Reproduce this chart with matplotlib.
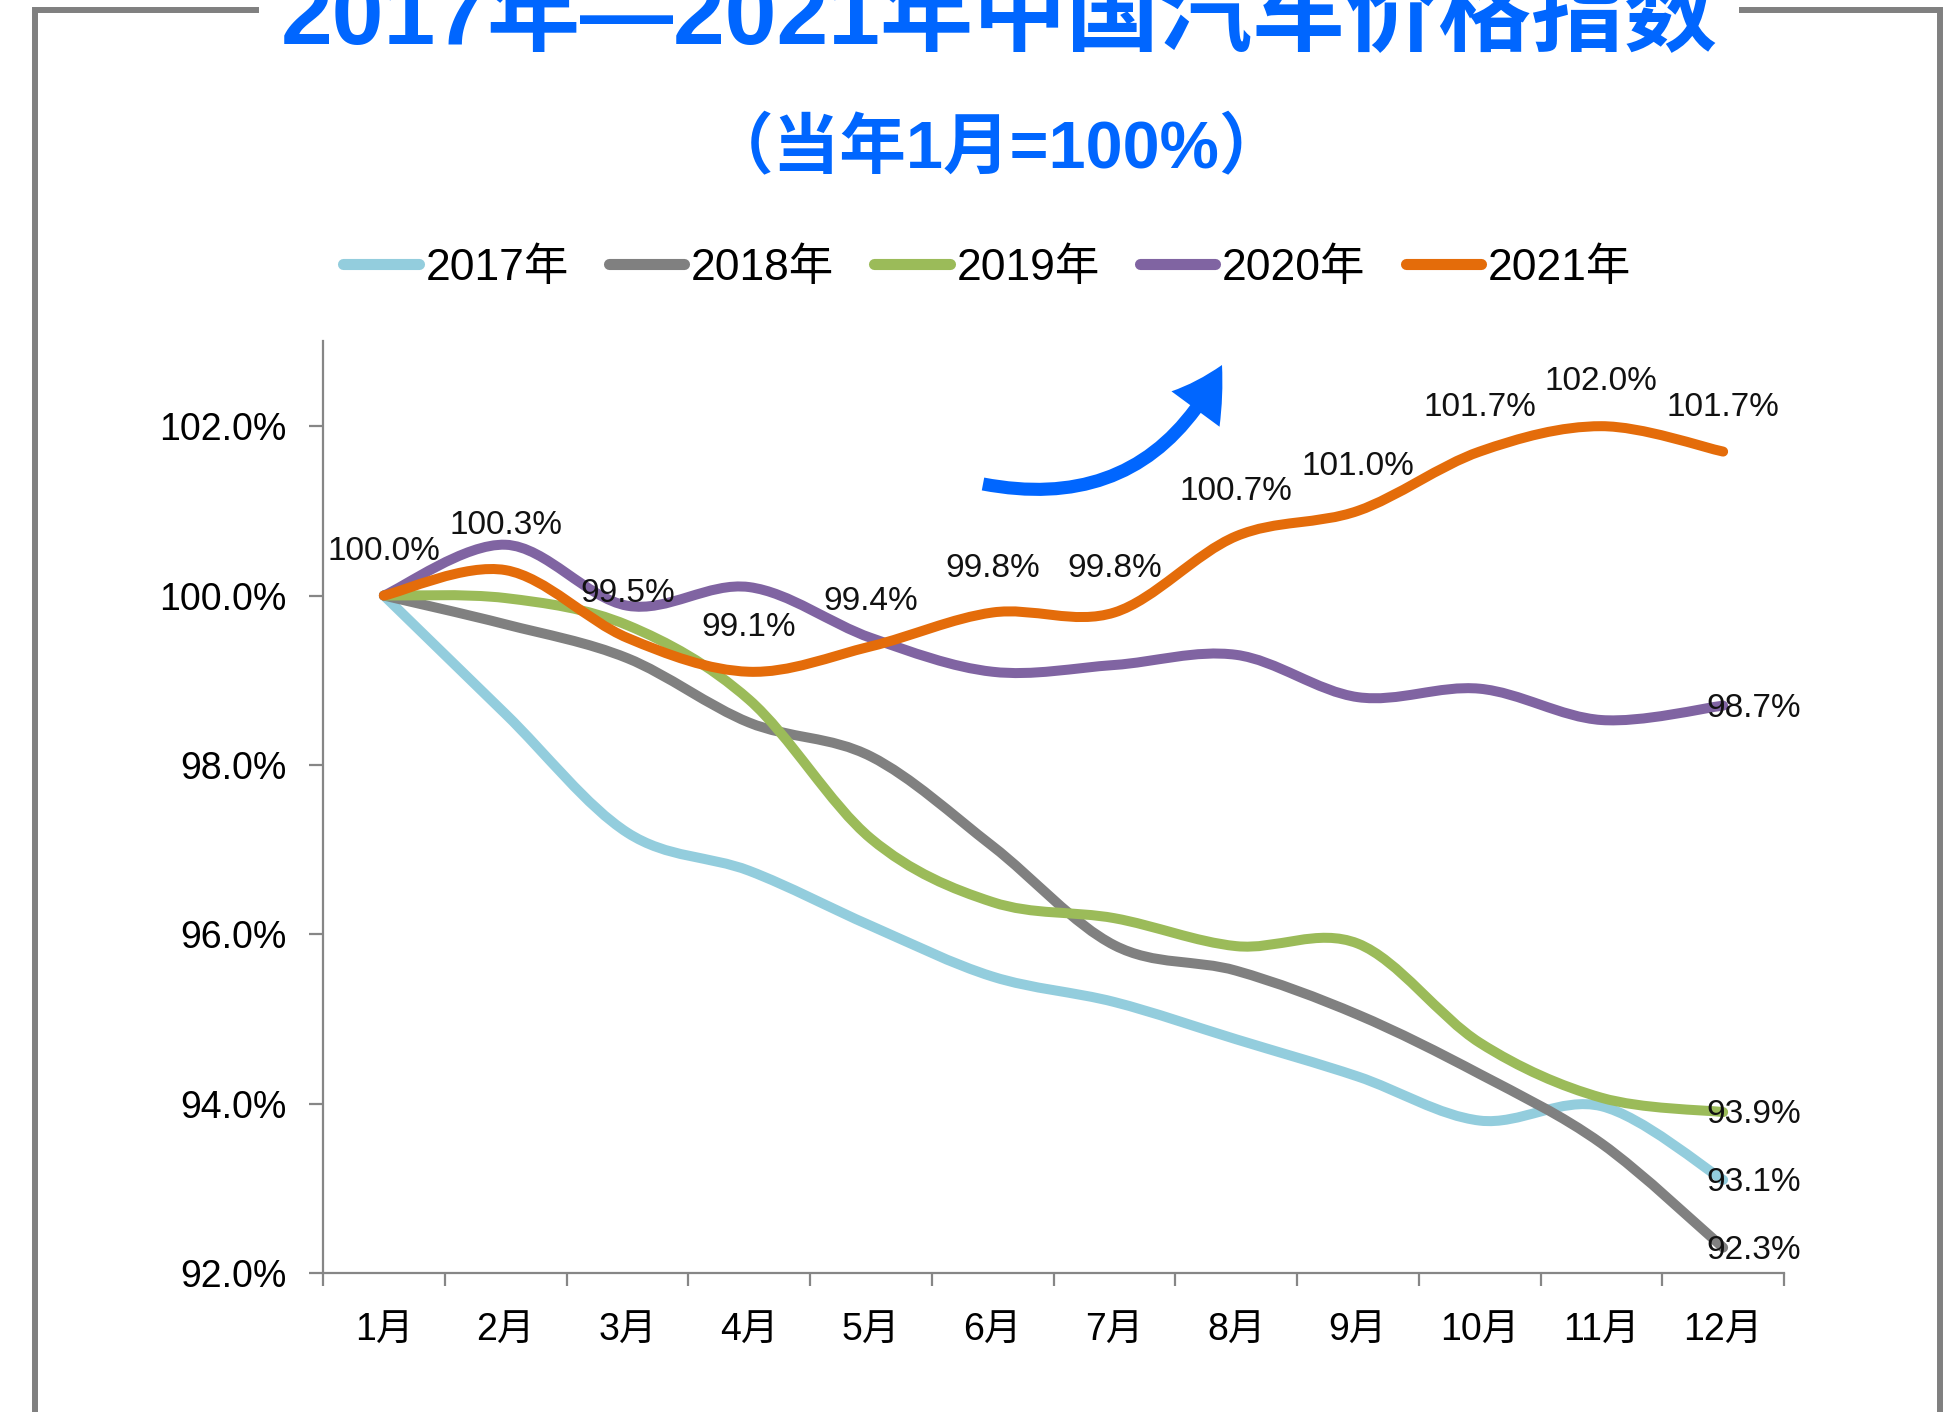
import matplotlib
matplotlib.use("Agg")
import matplotlib.pyplot as plt
import numpy as np
from matplotlib.path import Path
from matplotlib.patches import PathPatch, FancyArrowPatch
from matplotlib.lines import Line2D

plt.rcParams['font.family'] = ['Liberation Sans', 'Noto Sans CJK SC']

months = ['1月', '2月', '3月', '4月', '5月', '6月', '7月', '8月', '9月', '10月', '11月', '12月']
series_names = ['2017年', '2018年', '2019年', '2020年', '2021年']
colors = ['#93CDDD', '#808080', '#9BBB59', '#8064A2', '#E46C0A']

v2017 = [100.0, 98.6, 97.2, 96.75, 96.1, 95.5, 95.2, 94.76, 94.32, 93.8, 93.97, 93.1]
v2018 = [100.0, 99.66, 99.26, 98.5, 98.1, 97.04, 95.87, 95.57, 95.05, 94.35, 93.53, 92.3]
v2019 = [100.0, 99.97, 99.65, 98.77, 97.13, 96.38, 96.19, 95.86, 95.89, 94.72, 94.07, 93.9]
v2020 = [100.0, 100.6, 99.88, 100.1, 99.5, 99.1, 99.18, 99.3, 98.8, 98.9, 98.53, 98.7]
v2021 = [100.0, 100.3, 99.5, 99.1, 99.4, 99.8, 99.8, 100.7, 101.0, 101.7, 102.0, 101.7]
all_series = [v2017, v2018, v2019, v2020, v2021]

yticks = [92, 94, 96, 98, 100, 102]


def smooth_path(ys):
    # Excel-style smoothed line: cubic bezier through every point
    n = len(ys)
    pts = np.column_stack([np.arange(n), ys]).astype(float)
    verts = [pts[0]]
    codes = [Path.MOVETO]
    for i in range(n - 1):
        p0 = pts[max(i - 1, 0)]
        p1 = pts[i]
        p2 = pts[i + 1]
        p3 = pts[min(i + 2, n - 1)]
        verts += [p1 + (p2 - p0) / 6, p2 - (p3 - p1) / 6, p2]
        codes += [Path.CURVE4] * 3
    return Path(verts, codes)


W, H = 1947, 1412
fig = plt.figure(figsize=(W / 100, H / 100), dpi=100)
ax = fig.add_axes([323 / W, 1 - 1273 / H, (1784 - 323) / W, (1273 - 341.5) / H])

lw = 7.2
for ys, c in zip(all_series, colors):
    patch = PathPatch(smooth_path(ys), facecolor='none', edgecolor=c, lw=lw,
                      capstyle='round', joinstyle='round')
    ax.add_patch(patch)

ax.set_xlim(-0.5, 11.5)
ax.set_ylim(92, 103)

for s in ['top', 'right']:
    ax.spines[s].set_visible(False)
for s in ['left', 'bottom']:
    ax.spines[s].set_color('#868686')
    ax.spines[s].set_linewidth(1.6)

ax.set_yticks(yticks)
ax.set_yticklabels([f'{v:.1f}%' for v in yticks])
ax.tick_params(axis='y', direction='out', length=10, width=1.6, color='#868686',
               labelsize=27, pad=16)

ax.set_xticks(np.arange(-0.5, 12, 1))
ax.set_xticklabels([])
ax.set_xticks(np.arange(12), minor=True)
ax.set_xticklabels(months, minor=True)
ax.tick_params(axis='x', which='major', direction='out', length=9, width=1.6, color='#868686')
ax.tick_params(axis='x', which='minor', length=0, labelsize=27, pad=29)

# 2021 data labels above the line
for i, v in enumerate(v2021):
    ax.annotate(f'{v:.1f}%', (i, v), xytext=(0, 32), textcoords='offset points',
                ha='center', va='center', fontsize=24, color='#111111')

# end labels for the other years
for ys in [v2017, v2018, v2019, v2020]:
    ax.annotate(f'{ys[-1]:.1f}%', (11, ys[-1]), xytext=(-12, -2), textcoords='offset points',
                ha='left', va='center', fontsize=24, color='#111111')

handles = [Line2D([], [], color=c, lw=8, solid_capstyle='round') for c in colors]
fig.legend(handles, series_names, loc='center', bbox_to_anchor=(0.507, 1 - 268 / H),
           ncol=5, frameon=False, fontsize=32, handlelength=1.7, handletextpad=0.15,
           columnspacing=0.9)

fig.text(0.513, 1 - 43 / H, '2017年—2021年中国汽车价格指数', ha='center', va='baseline',
         fontsize=67, fontweight='bold', color='#0066FF')
fig.text(0.512, 1 - 168 / H, '（当年1月=100%）', ha='center', va='baseline',
         fontsize=48, fontweight='bold', color='#0066FF')

# curved blue arrow
arrow = FancyArrowPatch((983 / W, 1 - 484 / H), (1222 / W, 1 - 365 / H),
                        transform=fig.transFigure, connectionstyle='arc3,rad=0.38',
                        arrowstyle='simple,head_length=3.7,head_width=4.3,tail_width=0.94',
                        mutation_scale=10, color='#0066FF', lw=0, shrinkA=0, shrinkB=0)
fig.patches.append(arrow)

# outer frame, broken at the top for the title
frame_kw = dict(color='#808080', lw=4.3, transform=fig.transFigure, solid_joinstyle='miter')
fig.lines.append(Line2D([35 / W, 35 / W, 256 / W], [0, 1 - 10 / H, 1 - 10 / H], **frame_kw))
fig.lines.append(Line2D([1742 / W, 1940 / W, 1940 / W], [1 - 10 / H, 1 - 10 / H, 0], **frame_kw))

fig.savefig('out.png', dpi=100)
